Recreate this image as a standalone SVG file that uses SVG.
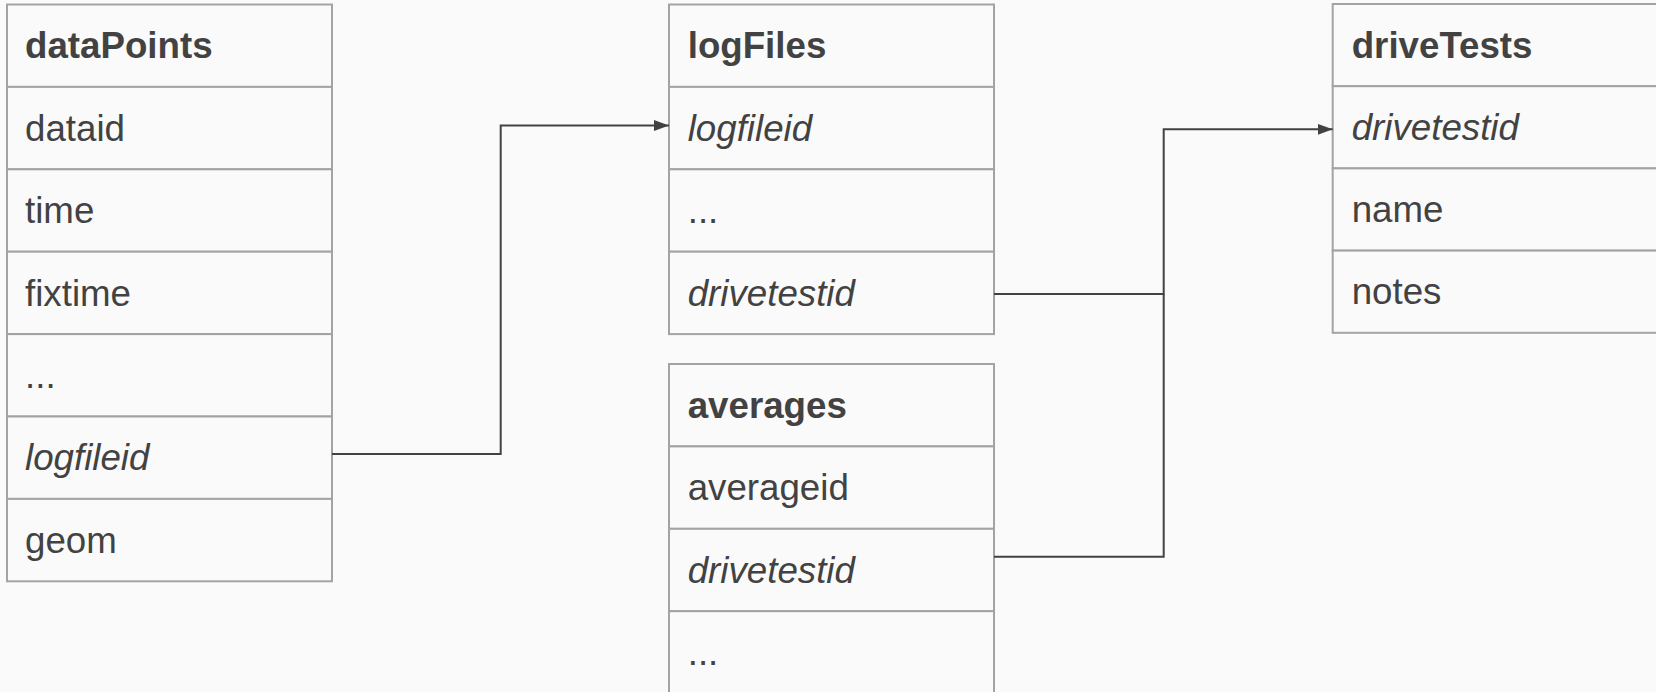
<svg xmlns="http://www.w3.org/2000/svg" width="1656" height="692" viewBox="0 0 1656 692">
<defs>
<style>
.bg{fill:#fafafa}
.cell{fill:#fafafa;stroke:#a3a3a3;stroke-width:2}
.t{font-family:"Liberation Sans",Arial,sans-serif;font-size:36.7px;fill:#424242}
.h{font-weight:bold}
.i{font-style:italic}
.conn{fill:none;stroke:#424242;stroke-width:2}
</style>
<marker id="arr" markerUnits="userSpaceOnUse" markerWidth="16" markerHeight="12" refX="15" refY="6" orient="auto">
<path d="M0,0.5 L15,6 L0,11.5 Z" fill="#424242"/>
</marker>
</defs>
<rect class="bg" x="0" y="0" width="1656" height="692"/>
<g id="dataPoints">
<rect class="cell" x="7" y="4.5" width="325" height="82.4"/>
<rect class="cell" x="7" y="86.9" width="325" height="82.4"/>
<rect class="cell" x="7" y="169.3" width="325" height="82.4"/>
<rect class="cell" x="7" y="251.7" width="325" height="82.4"/>
<rect class="cell" x="7" y="334.1" width="325" height="82.4"/>
<rect class="cell" x="7" y="416.5" width="325" height="82.4"/>
<rect class="cell" x="7" y="498.9" width="325" height="82.4"/>
<text class="t h" x="25" y="58.3">dataPoints</text>
<text class="t" x="25" y="140.7">dataid</text>
<text class="t" x="25" y="223.1">time</text>
<text class="t" x="25" y="305.5">fixtime</text>
<text class="t" x="25" y="387.9">...</text>
<text class="t i" x="25" y="470.3">logfileid</text>
<text class="t" x="25" y="552.7">geom</text>
</g>
<g id="logFiles">
<rect class="cell" x="669" y="4.5" width="325" height="82.4"/>
<rect class="cell" x="669" y="86.9" width="325" height="82.4"/>
<rect class="cell" x="669" y="169.3" width="325" height="82.4"/>
<rect class="cell" x="669" y="251.7" width="325" height="82.4"/>
<text class="t h" x="687.7" y="58.3">logFiles</text>
<text class="t i" x="687.7" y="140.7">logfileid</text>
<text class="t" x="687.7" y="223.1">...</text>
<text class="t i" x="687.7" y="305.5">drivetestid</text>
</g>
<g id="averages">
<rect class="cell" x="669" y="364" width="325" height="82.4"/>
<rect class="cell" x="669" y="446.4" width="325" height="82.4"/>
<rect class="cell" x="669" y="528.8" width="325" height="82.4"/>
<rect class="cell" x="669" y="611.2" width="325" height="82.4"/>
<text class="t h" x="687.7" y="417.8">averages</text>
<text class="t" x="687.7" y="500.2">averageid</text>
<text class="t i" x="687.7" y="582.6">drivetestid</text>
<text class="t" x="687.7" y="665">...</text>
</g>
<g id="driveTests">
<rect class="cell" x="1332.7" y="4" width="330" height="82.2"/>
<rect class="cell" x="1332.7" y="86.2" width="330" height="82.2"/>
<rect class="cell" x="1332.7" y="168.4" width="330" height="82.2"/>
<rect class="cell" x="1332.7" y="250.6" width="330" height="82.2"/>
<text class="t h" x="1351.7" y="57.6">driveTests</text>
<text class="t i" x="1351.7" y="139.8">drivetestid</text>
<text class="t" x="1351.7" y="222">name</text>
<text class="t" x="1351.7" y="304.2">notes</text>
</g>
<g id="connectors">
<path class="conn" d="M332,454 H500.7 V125.5 H669" marker-end="url(#arr)"/>
<path class="conn" d="M994,294 H1163.7 V129.3 H1332.7" marker-end="url(#arr)"/>
<path class="conn" d="M994,556.7 H1163.7 V294"/>
</g>
</svg>
